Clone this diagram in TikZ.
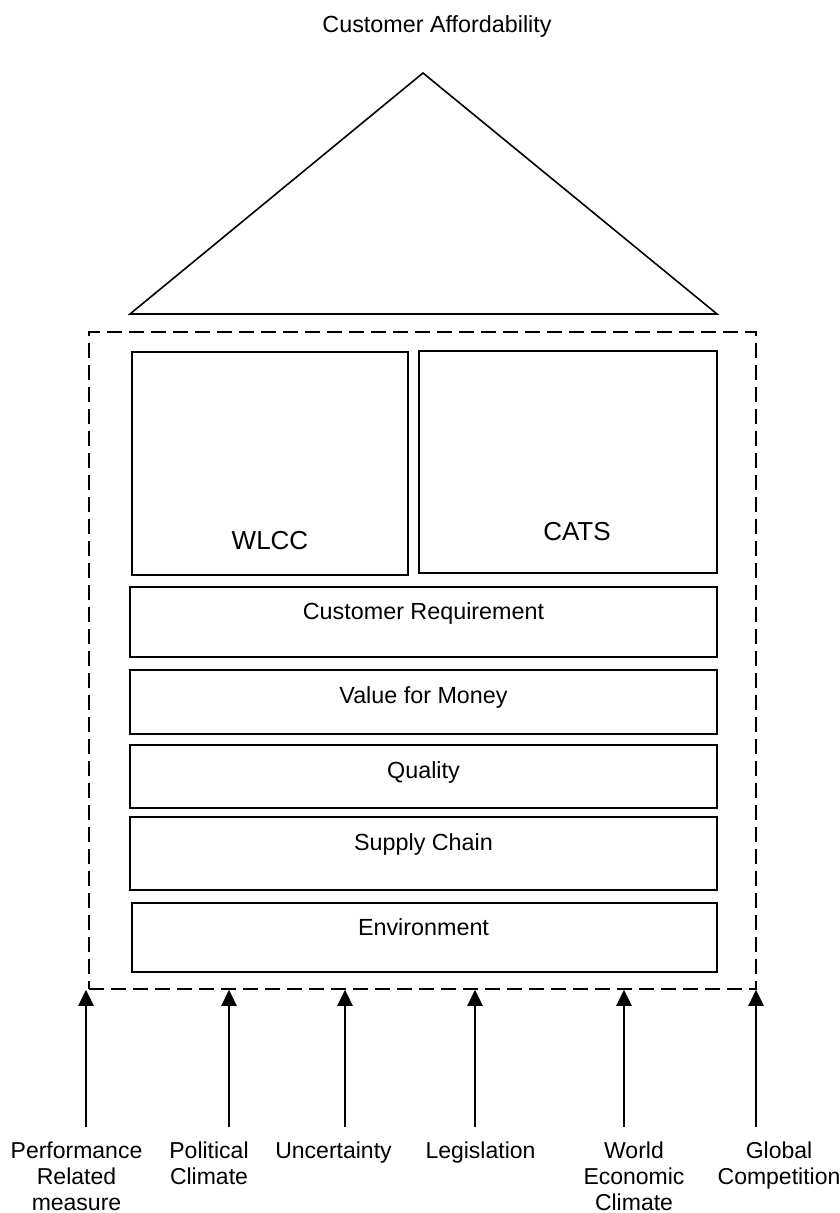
\documentclass[tikz,border=0pt]{standalone}
\usepackage{fontspec}
\setmainfont{Liberation Sans}
\usetikzlibrary{arrows.meta,fit}

\tikzset{
  px/.style={x=0.75pt,y=-0.75pt},
  layer/.style={draw=black,line width=1.4pt,inner sep=0pt},
  frame/.style={draw=black,line width=1.3pt,dash pattern=on 11.25pt off 5.25pt,inner sep=0pt},
  roof/.style={draw=black,line width=1.2pt,line join=miter},
  lbl/.style={inner sep=0pt,anchor=base,font=\fontsize{17.5}{20}\selectfont},
  biglbl/.style={inner sep=0pt,anchor=base,font=\fontsize{19.5}{23}\selectfont},
  driver/.style={inner sep=0pt,anchor=north,align=center,font=\fontsize{17.25}{19.5}\selectfont},
  push/.style={draw=black,line width=1.4pt,-{Triangle[width=11.5pt,length=12pt]}},
}

\begin{document}
\begin{tikzpicture}[px]
\useasboundingbox (0,0) rectangle (839,1213);

% roof
\node[lbl] (goal) at (437,33) {Customer Affordability};
\coordinate (apex) at (423,73);
\coordinate (eaveL) at (130,314);
\coordinate (eaveR) at (717,314);
\draw[roof] (eaveL) -- (apex) -- (eaveR) -- cycle;

% dashed boundary of the house
\node[frame,fit={(89,332) (756,989)}] (house) {};

% upper pair of blocks
\node[layer,fit={(132,352) (408,575)}] (wlccbox) {};
\node[biglbl] (wlcc) at (270,549) {WLCC};
\node[layer,fit={(419,351) (717,573)}] (catsbox) {};
\node[biglbl] (cats) at (577,540) {CATS};

% stacked layers
\node[layer,fit={(130,587) (717,657)}] (reqbox) {};
\node[lbl] (req) at (423.5,619) {Customer Requirement};
\node[layer,fit={(130,670) (717,734)}] (vfmbox) {};
\node[lbl] (vfm) at (423.5,703) {Value for Money};
\node[layer,fit={(130,745) (717,808)}] (qualbox) {};
\node[lbl] (qual) at (423.5,778) {Quality};
\node[layer,fit={(130,817) (717,890)}] (scbox) {};
\node[lbl] (sc) at (423.5,850) {Supply Chain};
\node[layer,fit={(132,903) (717,972)}] (envbox) {};
\node[lbl] (env) at (423.5,935) {Environment};

% external drivers
\node[driver] (d1) at (76.5,1141.5) {Performance\\Related\\measure};
\node[driver] (d2) at (209,1141.5) {Political\\Climate};
\node[driver] (d3) at (333.5,1141.5) {Uncertainty};
\node[driver] (d4) at (480.5,1141.5) {Legislation};
\node[driver] (d5) at (634,1141.5) {World\\Economic\\Climate};
\node[driver] (d6) at (779,1141.5) {Global\\Competition};

\coordinate (s1) at (86,1127);
\coordinate (s2) at (229,1127);
\coordinate (s3) at (345,1127);
\coordinate (s4) at (475,1127);
\coordinate (s5) at (624,1127);
\coordinate (s6) at (756,1127);

\foreach \i in {1,...,6}
  \draw[push] (s\i) -- (s\i |- house.south);
\end{tikzpicture}
\end{document}
